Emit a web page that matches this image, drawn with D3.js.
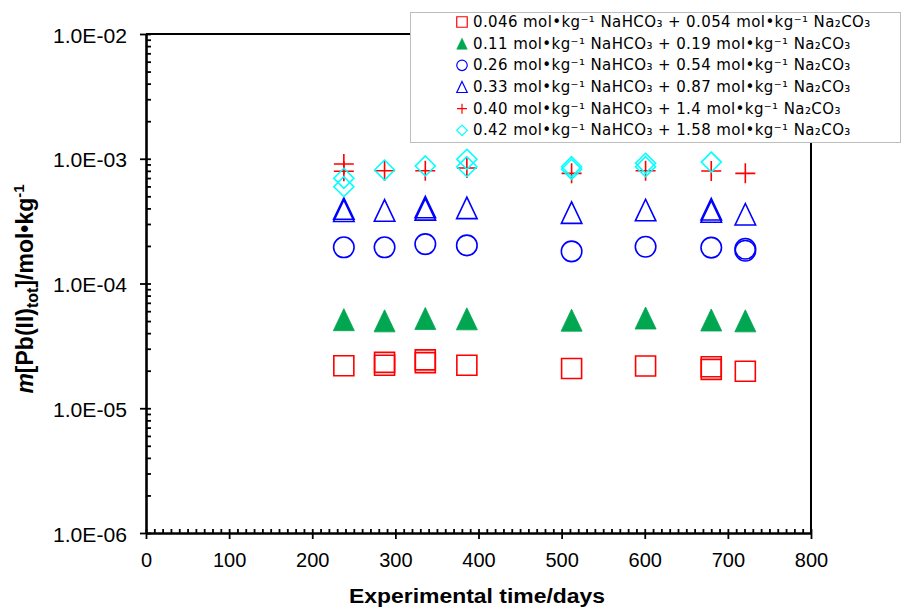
<!DOCTYPE html>
<html>
<head>
<meta charset="utf-8">
<script src="https://cdn.jsdelivr.net/npm/d3@7"></script>
<style>
  html, body { margin: 0; padding: 0; background: #fff; }
  svg { display: block; }
</style>
</head>
<body>
<svg id="chart" width="902" height="609"></svg>
<script>
// Axis ticks
const xTicks = [0, 100, 200, 300, 400, 500, 600, 700, 800];
const yTicks = [1e-6, 1e-5, 1e-4, 1e-3, 1e-2];

// Series: [experimental time / days, m[Pb(II)tot] / mol·kg⁻¹]
const pb046 = [[238, 2.19e-5], [287, 2.33e-5], [287, 2.21e-5], [336, 2.44e-5], [336, 2.32e-5],
               [386, 2.21e-5], [512, 2.08e-5], [601, 2.18e-5], [680, 2.15e-5], [680, 2.05e-5], [721, 1.98e-5]];
const pb011 = [[238, 5.13e-5], [287, 5.02e-5], [336, 5.24e-5], [386, 5.21e-5], [512, 5.08e-5],
               [601, 5.29e-5], [680, 5.10e-5], [721, 5.02e-5]];
const pb026 = [[238, 1.95e-4], [287, 1.95e-4], [336, 2.07e-4], [386, 2.02e-4], [512, 1.81e-4],
               [601, 1.97e-4], [680, 1.94e-4], [721, 1.90e-4], [721, 1.83e-4]];
const pb033 = [[238, 3.99e-4], [238, 3.83e-4], [287, 3.85e-4], [336, 4.10e-4], [336, 3.93e-4],
               [386, 4.04e-4], [512, 3.70e-4], [601, 3.88e-4], [680, 3.94e-4], [680, 3.78e-4], [721, 3.59e-4]];
const pb040 = [[238, 9.08e-4], [238, 7.93e-4], [287, 8.02e-4], [336, 8.02e-4], [386, 8.43e-4],
               [512, 7.64e-4], [601, 8.02e-4], [680, 7.97e-4], [721, 7.64e-4]];
const pb042 = [[238, 6.97e-4], [238, 5.97e-4], [287, 8.12e-4], [336, 8.75e-4], [386, 9.90e-4],
               [386, 8.63e-4], [512, 8.63e-4], [512, 8.23e-4], [601, 9.20e-4], [601, 8.63e-4], [680, 9.40e-4]];

const seriesLabels = [
  "0.046 mol•kg⁻¹ NaHCO₃ + 0.054 mol•kg⁻¹ Na₂CO₃",
  "0.11 mol•kg⁻¹ NaHCO₃ + 0.19 mol•kg⁻¹ Na₂CO₃",
  "0.26 mol•kg⁻¹ NaHCO₃ + 0.54 mol•kg⁻¹ Na₂CO₃",
  "0.33 mol•kg⁻¹ NaHCO₃ + 0.87 mol•kg⁻¹ Na₂CO₃",
  "0.40 mol•kg⁻¹ NaHCO₃ + 1.4 mol•kg⁻¹ Na₂CO₃",
  "0.42 mol•kg⁻¹ NaHCO₃ + 1.58 mol•kg⁻¹ Na₂CO₃"
];

// Marker shapes; "size" is the marker's full width in px
const shapeSquare = { draw(c, s) { const h = s / 2; c.rect(-h, -h, s, s); } };
const shapeCircle = { draw(c, s) { const r = s / 2; c.moveTo(r, 0); c.arc(0, 0, r, 0, 2 * Math.PI); c.closePath(); } };
const shapeTriangle = { draw(c, s) { const w = s / 2, h = s * 1.05 / 2; c.moveTo(0, -h); c.lineTo(w, h); c.lineTo(-w, h); c.closePath(); } };
const shapeDiamond = { draw(c, s) { const h = s / 2; c.moveTo(0, -h); c.lineTo(h, 0); c.lineTo(0, h); c.lineTo(-h, 0); c.closePath(); } };
const shapePlus = { draw(c, s) { const h = s / 2; c.moveTo(-h, 0); c.lineTo(h, 0); c.moveTo(0, -h); c.lineTo(0, h); } };

const series = [
  { data: pb046, shape: shapeSquare,   color: "#ff0000", filled: false, size: 20 },
  { data: pb011, shape: shapeTriangle, color: "#00a650", filled: true,  size: 21 },
  { data: pb026, shape: shapeCircle,   color: "#0000ff", filled: false, size: 20.5 },
  { data: pb033, shape: shapeTriangle, color: "#0000ff", filled: false, size: 20.5 },
  { data: pb040, shape: shapePlus,     color: "#ff0000", filled: false, size: 20 },
  { data: pb042, shape: shapeDiamond,  color: "#00ffff", filled: false, size: 20 }
];

const svg = d3.select("#chart");
const plot = { left: 146, right: 811, top: 34, bottom: 533 };

const x = d3.scaleLinear().domain([0, 800]).range([plot.left, plot.right]);
const y = d3.scaleLog().domain([1e-6, 1e-2]).range([plot.bottom, plot.top]);

const fmtE = v => "1.0E-" + String(-Math.round(Math.log10(v))).padStart(2, "0");

// Frame: top and right edges
svg.append("line").attr("x1", plot.left).attr("x2", plot.right).attr("y1", plot.top).attr("y2", plot.top)
  .attr("stroke", "#000").attr("stroke-width", 2);
svg.append("line").attr("x1", plot.right).attr("x2", plot.right).attr("y1", plot.top).attr("y2", plot.bottom)
  .attr("stroke", "#000").attr("stroke-width", 2);

// Y axis: minor ticks pointing inward
const yMinor = y.ticks().filter(v => !yTicks.includes(v));
svg.append("g").attr("transform", `translate(${plot.left},0)`)
  .call(d3.axisLeft(y).tickValues(yMinor.concat(yTicks)).tickSizeInner(-5).tickSizeOuter(0).tickFormat(""))
  .call(g => g.select(".domain").remove())
  .call(g => g.selectAll(".tick line").attr("stroke-width", 1.8));

// Y axis: major ticks and labels
svg.append("g").attr("transform", `translate(${plot.left},0)`)
  .call(d3.axisLeft(y).tickValues(yTicks).tickFormat(fmtE).tickSizeInner(6).tickSizeOuter(0).tickPadding(13))
  .call(g => g.select(".domain").attr("stroke-width", 2.6))
  .call(g => g.selectAll(".tick line").attr("stroke-width", 1.8))
  .call(g => g.selectAll(".tick text")
    .attr("font-family", "'Liberation Sans', Arial, sans-serif").attr("font-size", 20)
    .attr("fill", "#000").attr("dy", "0.4em")
    .attr("textLength", 74).attr("lengthAdjust", "spacingAndGlyphs"));

// X axis: minor ticks pointing inward
svg.append("g").attr("transform", `translate(0,${plot.bottom})`)
  .call(d3.axisBottom(x).tickValues(x.ticks(80)).tickSizeInner(-4).tickSizeOuter(0).tickFormat(""))
  .call(g => g.select(".domain").remove())
  .call(g => g.selectAll(".tick line").attr("stroke-width", 1.8));

// X axis: major ticks and labels
svg.append("g").attr("transform", `translate(0,${plot.bottom})`)
  .call(d3.axisBottom(x).tickValues(xTicks).tickSizeInner(6).tickSizeOuter(0).tickPadding(13.5))
  .call(g => g.select(".domain").attr("stroke-width", 2.6))
  .call(g => g.selectAll(".tick line").attr("stroke-width", 1.8))
  .call(g => g.selectAll(".tick text")
    .attr("font-family", "'Liberation Sans', Arial, sans-serif").attr("font-size", 20).attr("fill", "#000"));

// Data markers
series.forEach(s => {
  const sym = d3.symbol().type(s.shape).size(s.size);
  svg.append("g").selectAll("path").data(s.data).join("path")
    .attr("transform", d => `translate(${x(d[0])},${y(d[1])})`)
    .attr("d", sym)
    .attr("fill", s.filled ? s.color : "none")
    .attr("stroke", s.color)
    .attr("stroke-width", s.filled ? 0.8 : 1.6);
});

// Axis titles
svg.append("text")
  .attr("x", 477).attr("y", 603)
  .attr("text-anchor", "middle")
  .attr("font-family", "'Liberation Sans', Arial, sans-serif")
  .attr("font-weight", "bold").attr("font-size", 20)
  .attr("textLength", 256).attr("lengthAdjust", "spacingAndGlyphs")
  .text("Experimental time/days");

const yTitle = svg.append("text")
  .attr("transform", "translate(33,289) rotate(-90)")
  .attr("text-anchor", "middle")
  .attr("font-family", "'Liberation Sans', Arial, sans-serif")
  .attr("font-weight", "bold").attr("font-size", 23);
yTitle.append("tspan").attr("font-style", "italic").text("m");
yTitle.append("tspan").text("[Pb(II)");
yTitle.append("tspan").attr("font-size", 16).attr("dy", 5).text("tot");
yTitle.append("tspan").attr("dy", -5).text("]/mol•kg");
yTitle.append("tspan").attr("font-size", 15).attr("dy", -9).text("-1");

// Legend
const legend = svg.append("g");
legend.append("rect")
  .attr("x", 410.5).attr("y", 12.5).attr("width", 490).attr("height", 130)
  .attr("fill", "#fff").attr("stroke", "#bdbdbd").attr("stroke-width", 1);

const rowY = d3.scaleLinear().domain([0, 5]).range([22, 130.3]);
const legendRows = legend.selectAll("g.row").data(series).join("g").attr("class", "row")
  .attr("transform", (d, i) => `translate(462,${rowY(i)})`);
legendRows.append("path")
  .attr("d", d => d3.symbol().type(d.shape).size(d.shape === shapePlus ? 10 : 10.5)())
  .attr("fill", d => d.filled ? d.color : "none")
  .attr("stroke", d => d.color)
  .attr("stroke-width", d => d.filled ? 0.6 : 1.2);
legendRows.append("text")
  .attr("x", 11).attr("y", 5)
  .attr("font-family", "'DejaVu Sans', Verdana, sans-serif")
  .attr("font-size", 15).attr("letter-spacing", 0.4).attr("fill", "#000")
  .text((d, i) => seriesLabels[i]);
</script>
</body>
</html>
